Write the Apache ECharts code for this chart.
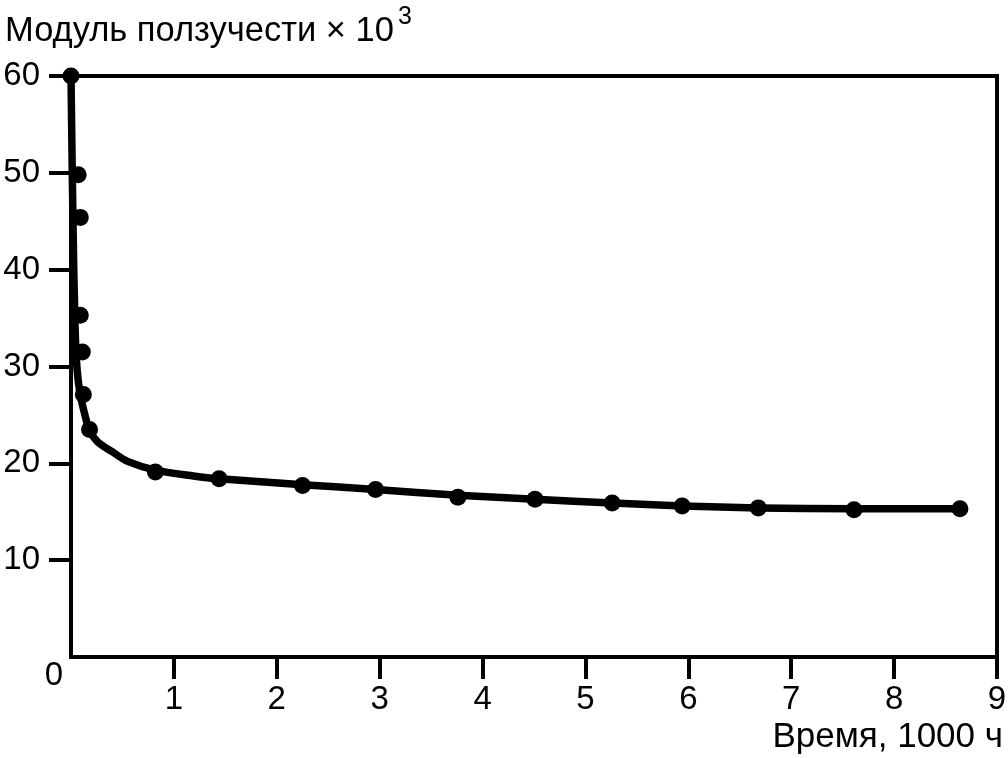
<!DOCTYPE html>
<html>
<head>
<meta charset="utf-8">
<script src="https://cdn.jsdelivr.net/npm/echarts@6/dist/echarts.min.js"></script>
<style>
html,body{margin:0;padding:0;background:#fff;}
#c{width:1008px;height:758px;}
</style>
</head>
<body>
<div id="c"></div>
<script>
// measured points: time (1000 h) and creep modulus (x 10^3)
const pointTime = [0, 0.07, 0.09, 0.09, 0.11, 0.12, 0.18, 0.82, 1.44, 2.25, 2.96, 3.76, 4.51, 5.26, 5.94, 6.68, 7.61, 8.64];
const pointModulus = [60, 49.8, 45.4, 35.3, 31.5, 27.1, 23.5, 19.1, 18.4, 17.7, 17.3, 16.5, 16.3, 15.9, 15.6, 15.4, 15.2, 15.3];
// fitted curve
const curveTime = [0, 0.02, 0.04, 0.06, 0.09, 0.14, 0.18, 0.26, 0.40, 0.55, 0.82, 1.19, 1.44, 2.25, 2.96, 3.76, 4.51, 5.26, 5.94, 6.68, 7.61, 8.64];
const curveModulus = [60, 44.4, 33.8, 29.6, 27.1, 24.8, 23.4, 22.2, 21.2, 20.2, 19.3, 18.7, 18.4, 17.8, 17.3, 16.7, 16.3, 15.9, 15.6, 15.4, 15.3, 15.3];
const xTicks = [0, 1, 2, 3, 4, 5, 6, 7, 8, 9];
const yTicks = [0, 10, 20, 30, 40, 50, 60];
const yTitle = 'Модуль ползучести × 10';
const yTitleExp = '3';
const xTitle = 'Время, 1000 ч';

const FONT = 'Liberation Sans, Arial, Helvetica, sans-serif';
const chart = echarts.init(document.getElementById('c'), null, {renderer: 'canvas'});

const pts = pointTime.map((t, i) => [t, pointModulus[i]]);
const crv = curveTime.map((t, i) => [t, curveModulus[i]]);

chart.setOption({
  animation: false,
  backgroundColor: '#fff',
  title: [{
    text: yTitle,
    left: 0,
    top: 9,
    textStyle: {fontFamily: FONT, fontSize: 34.5, fontWeight: 'normal', color: '#000'}
  }, {
    text: yTitleExp,
    left: 393,
    top: 0,
    textStyle: {fontFamily: FONT, fontSize: 25, fontWeight: 'normal', color: '#000'}
  }, {
    text: xTitle,
    right: 0,
    top: 715,
    textStyle: {fontFamily: FONT, fontSize: 35, fontWeight: 'normal', color: '#000'}
  }],
  grid: {
    left: 71, right: 11, top: 76, bottom: 101,
    containLabel: false,
    outerBoundsMode: 'none',
    show: true, borderColor: '#000', borderWidth: 4, backgroundColor: 'transparent'
  },
  xAxis: {
    type: 'value',
    min: xTicks[0], max: xTicks[xTicks.length - 1], interval: 1,
    axisLine: {show: true, lineStyle: {color: '#000', width: 4}},
    axisTick: {show: true, inside: false, length: 22, lineStyle: {color: '#000', width: 4}},
    axisLabel: {
      show: true, margin: 26, showMinLabel: false,
      fontFamily: FONT, fontSize: 33, color: '#000'
    },
    splitLine: {show: false}
  },
  yAxis: {
    type: 'value',
    min: yTicks[0], max: yTicks[yTicks.length - 1], interval: 10,
    axisLine: {show: true, lineStyle: {color: '#000', width: 4}},
    axisTick: {show: true, inside: false, length: 22, lineStyle: {color: '#000', width: 4}},
    axisLabel: {
      show: true, margin: 31, showMinLabel: false,
      fontFamily: FONT, fontSize: 33, color: '#000'
    },
    splitLine: {show: false}
  },
  graphic: [{
    type: 'text',
    style: {
      text: '0', x: 54, y: 676,
      font: '33px ' + FONT, fill: '#000',
      textAlign: 'center', textVerticalAlign: 'middle'
    }
  }],
  series: [
    {
      type: 'line',
      data: crv,
      smooth: 0.3,
      showSymbol: false,
      clip: false,
      lineStyle: {color: '#000', width: 7.5, join: 'round', cap: 'round'},
      z: 2
    },
    {
      type: 'scatter',
      data: pts,
      symbol: 'circle',
      symbolSize: 17,
      clip: false,
      itemStyle: {color: '#000', opacity: 1},
      z: 3
    }
  ]
});
</script>
</body>
</html>
